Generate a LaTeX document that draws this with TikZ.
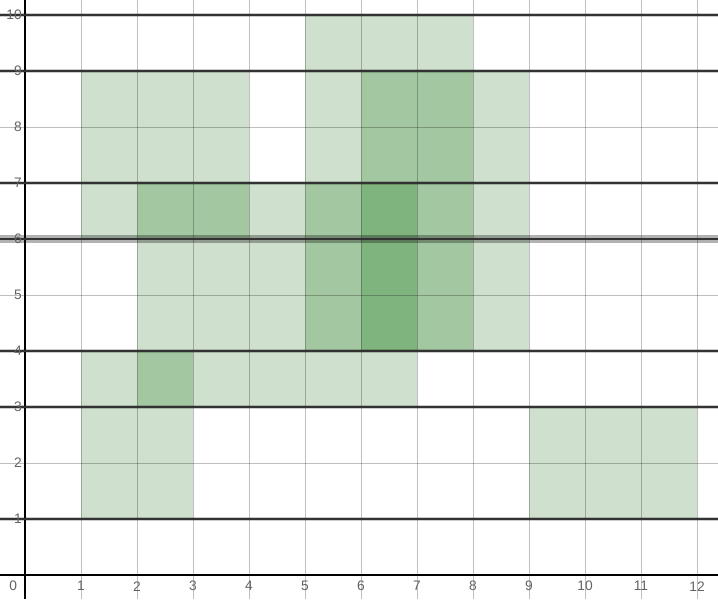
\documentclass[tikz,border=0pt]{standalone}
\usepackage{fontspec}
\setmainfont{Liberation Sans}
\definecolor{lightg}{RGB}{207,224,206}
\definecolor{midg}{RGB}{163,199,161}
\definecolor{darkg}{RGB}{128,180,126}
\definecolor{lblgray}{RGB}{100,100,100}
\definecolor{bandline}{RGB}{50,50,50}
\tikzset{
  gridline/.style={draw=black, draw opacity=0.25, line width=0.5pt},
  axisline/.style={draw=black, line width=0.6pt},
  bandhalo/.style={draw=black, draw opacity=0.2, line width=2.4pt},
  bandmain/.style={draw=bandline, line width=1.1pt},
  ticklbl/.style={font=\fontsize{7}{8}\selectfont, text=lblgray, inner sep=0pt},
}
\begin{document}
\begin{tikzpicture}[x=1cm,y=1cm]
\useasboundingbox (-0.4464,-0.4286) rectangle (12.375,10.268);
\fill[white] (-0.4464,-0.4286) rectangle (12.375,10.268);
% light cells (one layer)
\foreach \a/\b/\c/\d in {5/9/8/10, 1/7/4/9, 5/7/6/9, 8/4/9/9, 1/6/2/7, 4/4/5/7, 2/4/4/6, 1/3/2/4, 3/3/7/4, 1/1/3/3, 9/1/12/3}
  \fill[lightg] (\a,\b) rectangle (\c,\d);
% medium cells (two layers)
\foreach \a/\b/\c/\d in {6/7/8/9, 2/6/4/7, 5/4/6/7, 7/4/8/7, 2/3/3/4}
  \fill[midg] (\a,\b) rectangle (\c,\d);
% dark cells (three layers)
\fill[darkg] (6,4) rectangle (7,7);
% grid
\foreach \i in {1,...,12}
  \draw[gridline] (\i,-0.4286) -- (\i,10.268);
\foreach \j in {1,...,10}
  \draw[gridline] (-0.4464,\j) -- (12.375,\j);
% axes
\coordinate (yb) at (0,-0.4286);
\coordinate (yt) at (0,10.268);
\coordinate (xl) at (-0.4464,0);
\coordinate (xr) at (12.375,0);
\draw[axisline] (yb) -- (yt);
\draw[axisline] (xl) -- (xr);
% horizontal bands
\foreach \j in {1,3,4,7,9,10}{
  \draw[bandhalo] (-0.4464,\j) -- (12.375,\j);
  \draw[bandmain] (-0.4464,\j) -- (12.375,\j);
}
\draw[bandhalo, line width=4pt, draw opacity=0.3] (-0.4464,6) -- (12.375,6);
\draw[bandmain] (-0.4464,6) -- (12.375,6);
% tick labels
\node[ticklbl] (x0) at (-0.21,-0.2) {0};
\foreach \i in {1,...,12}
  \node[ticklbl] (x\i) at (\i,-0.2) {\i};
\foreach \j in {1,...,10}
  \node[ticklbl, anchor=east] (y\j) at (-0.05,\j) {\j};
\end{tikzpicture}
\end{document}
